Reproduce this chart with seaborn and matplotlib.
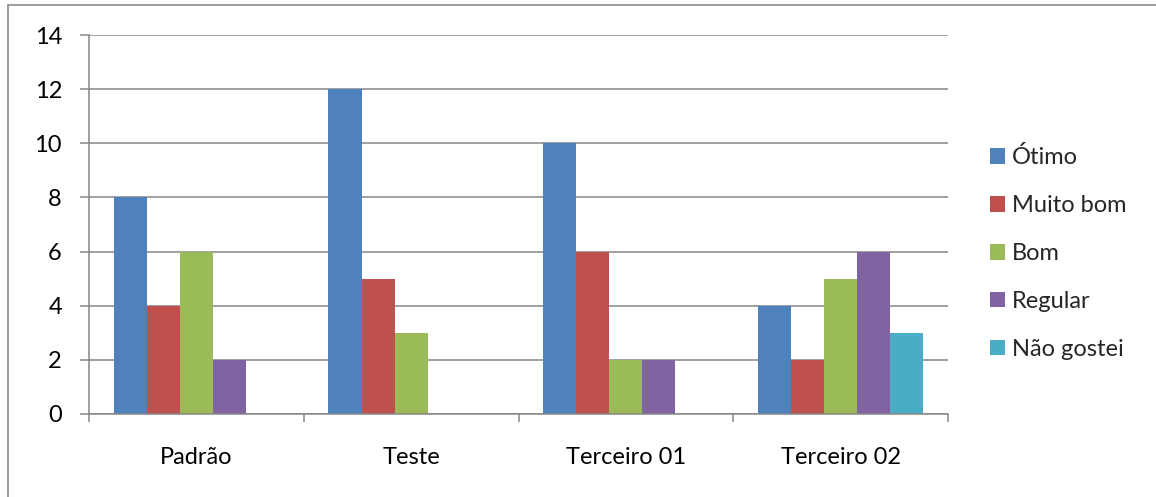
import matplotlib
matplotlib.use("Agg")
import matplotlib.pyplot as plt
from matplotlib.lines import Line2D
from matplotlib.patches import Patch
import seaborn as sns
import pandas as pd
import numpy as np

categories = ["Padrão", "Teste", "Terceiro 01", "Terceiro 02"]
series_names = ["Ótimo", "Muito bom", "Bom", "Regular", "Não gostei"]
otimo = [8, 12, 10, 4]
muito_bom = [4, 5, 6, 2]
bom = [6, 3, 2, 5]
regular = [2, 0, 2, 6]
nao_gostei = [0, 0, 0, 3]
yticks = [0, 2, 4, 6, 8, 10, 12, 14]

colors = ["#4F81BD", "#C0504D", "#9BBB59", "#8064A2", "#4BACC6"]

rows = []
for name, vals in zip(series_names, [otimo, muito_bom, bom, regular, nao_gostei]):
    for c, v in zip(categories, vals):
        rows.append({"Categoria": c, "Série": name, "Valor": v})
df = pd.DataFrame(rows)

sns.set_theme(style="white")
plt.rcParams["font.family"] = ["Lato", "DejaVu Sans"]

FS = 17
W, H = 1156, 497
fig = plt.figure(figsize=(W / 100, H / 100), dpi=100)
ax = fig.add_axes([89 / W, (H - 414) / H, (948 - 89) / W, (414 - 35) / H])

sns.barplot(data=df, x="Categoria", y="Valor", hue="Série", order=categories,
            hue_order=series_names, palette=colors, width=0.77, gap=0,
            linewidth=0, saturation=1, ax=ax, legend=False, errorbar=None)

gray = "#868686"
ax.set_ylim(0, 14)
ax.set_xlim(-0.5, len(categories) - 0.5)
ax.set_yticks(yticks)
ax.set_yticklabels([str(t) for t in yticks])
ax.yaxis.grid(True, color=gray, linewidth=1.1)
ax.xaxis.grid(False)
ax.set_axisbelow(True)
ax.set_xlabel("")
ax.set_ylabel("")

for s in ["top", "right"]:
    ax.spines[s].set_visible(False)
for s in ["left", "bottom"]:
    ax.spines[s].set_color(gray)
    ax.spines[s].set_linewidth(1.1)

ax.tick_params(axis="y", which="major", length=6.5, width=1.1, color=gray,
               direction="out", left=True, pad=13, labelsize=FS, labelcolor="black")
ax.tick_params(axis="x", which="major", length=0, pad=24, labelsize=FS, labelcolor="black")
ax.set_xticks(np.arange(-0.5, len(categories), 1.0), minor=True)
ax.tick_params(axis="x", which="minor", length=6, width=1.1, color=gray,
               direction="out", bottom=True)

handles = [Patch(facecolor=c, edgecolor="none", label=n) for c, n in zip(colors, series_names)]
fig.legend(handles=handles, loc="center left", bbox_to_anchor=(990 / W, (H - 253) / H),
           frameon=False, fontsize=FS, handlelength=0.64, handleheight=0.64,
           handletextpad=0.3, labelspacing=1.14, borderpad=0, borderaxespad=0)

# outer chart border (left and top visible)
fig.add_artist(Line2D([8 / W, 8 / W], [0, 1 - 5 / H], transform=fig.transFigure,
                      color="#8c8c8c", linewidth=1.2))
fig.add_artist(Line2D([8 / W, 1], [1 - 5 / H, 1 - 5 / H], transform=fig.transFigure,
                      color="#8c8c8c", linewidth=1.2))

fig.savefig("out.png", dpi=100, facecolor="white")
